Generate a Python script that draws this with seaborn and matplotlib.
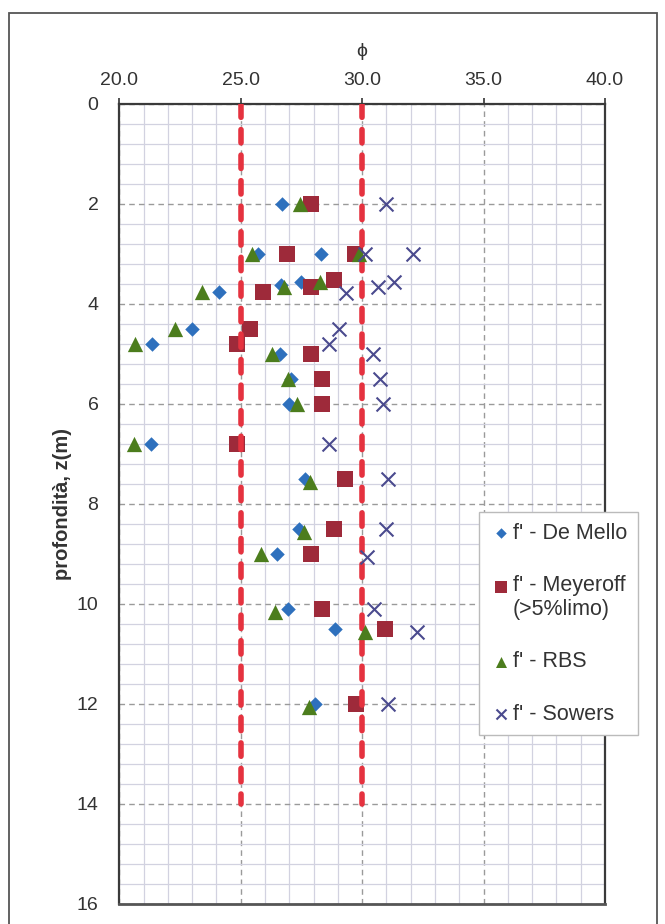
import matplotlib
matplotlib.use("Agg")
import matplotlib.pyplot as plt
import seaborn as sns
import numpy as np
from matplotlib.ticker import MultipleLocator, FormatStrFormatter
from matplotlib.patches import Rectangle

# ---------------- data ----------------
demello_phi = [26.7, 25.7, 28.3, 24.1, 26.65, 27.5, 23.0, 21.35, 26.6, 27.05, 27.0, 21.3, 27.65, 27.4, 26.5, 26.95, 28.9, 28.05]
demello_z = [2.0, 3.0, 3.0, 3.75, 3.62, 3.55, 4.5, 4.8, 5.0, 5.5, 6.0, 6.8, 7.5, 8.5, 9.0, 10.1, 10.5, 12.0]

meyeroff_phi = [27.9, 26.9, 29.7, 25.9, 27.9, 28.85, 25.4, 24.85, 27.9, 28.35, 28.35, 24.85, 29.3, 28.85, 27.9, 28.35, 30.95, 29.75]
meyeroff_z = [2.0, 3.0, 3.0, 3.75, 3.65, 3.52, 4.5, 4.8, 5.0, 5.5, 6.0, 6.8, 7.5, 8.5, 9.0, 10.1, 10.5, 12.0]

rbs_phi = [27.45, 25.45, 29.85, 23.4, 26.8, 28.25, 22.3, 20.65, 26.3, 26.95, 27.3, 20.6, 27.85, 27.6, 25.85, 26.4, 30.1, 27.8]
rbs_z = [2.0, 3.0, 3.0, 3.75, 3.65, 3.55, 4.5, 4.8, 5.0, 5.5, 6.0, 6.8, 7.55, 8.55, 9.0, 10.15, 10.55, 12.05]

sowers_phi = [31.0, 30.1, 32.1, 29.35, 30.65, 31.3, 29.05, 28.65, 30.45, 30.75, 30.85, 28.65, 31.05, 31.0, 30.2, 30.5, 32.25, 31.05]
sowers_z = [2.0, 3.0, 3.0, 3.78, 3.66, 3.55, 4.5, 4.8, 5.0, 5.5, 6.0, 6.8, 7.5, 8.5, 9.05, 10.1, 10.55, 12.0]

series_labels = ["f' - De Mello", "f' - Meyeroff\n(>5%limo)", "f' - RBS", "f' - Sowers"]
x_ticks = [20.0, 25.0, 30.0, 35.0, 40.0]
y_ticks = [0, 2, 4, 6, 8, 10, 12, 14, 16]
ref_phi = [25.0, 30.0]
ref_depth = [0.0, 14.0]

# ---------------- style ----------------
sns.set_theme(style="white")
plt.rcParams["font.family"] = ["Liberation Sans", "DejaVu Sans"]
txt = "#333333"

fig = plt.figure(figsize=(6.65, 9.24), dpi=100)
ax = fig.add_axes([119.3 / 665, 1 - 904 / 924, (605 - 119.3) / 665, 800 / 924])

c_dm = "#2e70bd"
c_me = "#9e2a3a"
c_rb = "#4c7d1d"
c_so = "#4a4a8e"

sns.scatterplot(x=demello_phi, y=demello_z, marker="D", s=7.4**2, color=c_dm,
                edgecolor=c_dm, linewidth=0, label=series_labels[0], ax=ax, zorder=3)
sns.scatterplot(x=meyeroff_phi, y=meyeroff_z, marker="s", s=11.3**2, color=c_me,
                edgecolor=c_me, linewidth=0, label=series_labels[1], ax=ax, zorder=3)
for xv in ref_phi:
    ax.plot([xv, xv], ref_depth, color="#e5323f", lw=4, linestyle=(0, (2.4, 2.2)),
            dash_capstyle="round", solid_capstyle="round", zorder=3.5)
sns.scatterplot(x=rbs_phi, y=rbs_z, marker="^", s=11**2, color=c_rb,
                edgecolor=c_rb, linewidth=0, label=series_labels[2], ax=ax, zorder=4)
sns.scatterplot(x=sowers_phi, y=sowers_z, marker="x", s=10**2, color=c_so,
                edgecolor=c_so, linewidth=1.5, label=series_labels[3], ax=ax, zorder=5)

ax.set_xlim(20, 40)
ax.set_ylim(16, 0)
ax.xaxis.tick_top()
ax.xaxis.set_label_position("top")
ax.set_xticks(x_ticks)
ax.set_yticks(y_ticks)
ax.xaxis.set_major_formatter(FormatStrFormatter("%.1f"))
ax.xaxis.set_minor_locator(MultipleLocator(1))
ax.yaxis.set_minor_locator(MultipleLocator(0.4))

ax.grid(which="minor", color="#d2d2e0", lw=0.9, ls="-", zorder=0)
ax.grid(which="major", color="#9a9a9a", lw=1.0, ls=(0, (4, 3)), zorder=0.5)
ax.set_axisbelow(True)

ax.tick_params(axis="x", which="major", direction="out", length=4, width=1.2,
               pad=7, labelsize=14, colors=txt)
ax.tick_params(axis="y", which="major", direction="out", length=6, width=1.2,
               pad=9, labelsize=14, colors=txt)
ax.tick_params(which="minor", length=0)

for sp in ax.spines.values():
    sp.set_color("#3a3a3a")
    sp.set_linewidth(1.6)
ax.spines["bottom"].set_linewidth(2.0)
ax.spines["bottom"].set_color("#555555")

ax.set_xlabel("ϕ", fontsize=14, color=txt)
ax.xaxis.set_label_coords(0.5, 1.06)
ax.set_ylabel("profondità, z(m)", fontsize=14.5, fontweight="bold", color=txt)
ax.yaxis.set_label_coords(-0.097, 0.5)

leg_fs = 15.5
leg = ax.legend(loc="upper left", bbox_to_anchor=(479 / 665, 1 - 512 / 924),
                bbox_transform=fig.transFigure, borderaxespad=0, frameon=True,
                fancybox=False, shadow=False, framealpha=1, edgecolor="#bbbbbb",
                fontsize=leg_fs, labelspacing=1.45, handlelength=1.0, handletextpad=0.08,
                borderpad=0.5, markerscale=0.72, labelcolor=txt)
leg.get_frame().set_linewidth(1.0)
# align the Meyeroff marker with the first line of its two-line label
h = leg.legend_handles[1]
offs = np.asarray(h.get_offsets(), dtype=float).copy()
offs[:, 1] += 0.6 * leg_fs
h.set_offsets(offs)

fig.patches.append(Rectangle((9 / 665, 1 - 945 / 924), (657 - 9) / 665, (945 - 13) / 924,
                             transform=fig.transFigure, fill=False, ec="#555555", lw=1.3))

fig.savefig("out.png", dpi=100, facecolor="white")
